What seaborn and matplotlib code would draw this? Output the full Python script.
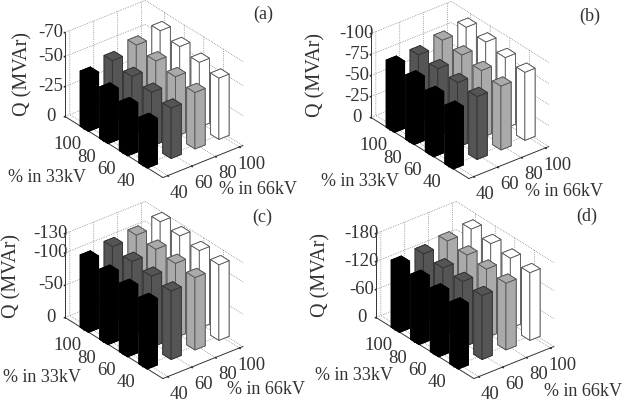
import numpy as np
import seaborn as sns
import matplotlib
matplotlib.use("Agg")
import matplotlib.pyplot as plt

# --- Data ---
PCT_66KV = [40, 60, 80, 100]
PCT_33KV = [40, 60, 80, 100]

# rows: % in 33kV, columns: % in 66kV
Q_A = [[-38, -42, -47, -51],
       [-41, -45, -50, -54],
       [-43, -48, -53, -57],
       [-46, -51, -56, -60]]
Q_B = [[-70, -75, -76, -81],
       [-73, -77, -80, -84],
       [-77, -79, -84, -88],
       [-80, -81, -87, -91]]
Q_C = [[-103, -106, -112, -117],
       [-106, -110, -115, -120],
       [-109, -114, -118, -124],
       [-112, -118, -121, -127]]
Q_D = [[-133, -137, -143, -145],
       [-137, -141, -147, -150],
       [-140, -144, -151, -155],
       [-144, -148, -155, -160]]

TICKS_A = [0, -25, -50, -70]
TICKS_B = [0, -25, -50, -75, -100]
TICKS_C = [0, -50, -100, -130]
TICKS_D = [0, -60, -120, -180]

GREYS = ["#000000", "#555555", "#aaaaaa", "#ffffff"]
EDGES = ["#000000", "#333333", "#555555", "#555555"]

W, H = 623, 407
AX_PX = 200

sns.set_theme(style="white")
plt.rcParams["font.family"] = ["Liberation Serif", "DejaVu Serif"]
plt.rcParams["axes.unicode_minus"] = False
plt.rcParams["text.color"] = "#333333"


def draw_panel(fig, values, zticks, center, name, name_pos, q_pos, lab33, lab66):
    """center is where the middle of the plot box lands, in pixels."""
    left = center[0] - 0.5135 * AX_PX
    bottom = H - (center[1] + 0.5135 * AX_PX)
    ax = fig.add_axes([left / W, bottom / H, AX_PX / W, AX_PX / H], projection="3d", proj_type="ortho")
    ax.patch.set_alpha(0)
    ax.view_init(elev=30, azim=-128.7)
    ax.set_box_aspect((102.6, 156.5, 97), zoom=1.023)
    ax.computed_zorder = False

    values = np.array(values)
    width = 8.5
    order = 0
    # far bars first so the near ones cover them
    for j in range(3, -1, -1):
        for i in range(3, -1, -1):
            order += 1
            ax.bar3d(PCT_66KV[j] - width / 2, PCT_33KV[i] - width / 2, 0, width, width, values[i, j],
                     color=GREYS[j], edgecolor=EDGES[j], linewidth=0.6, shade=False, zorder=order)

    ax.set_xlim(36, 103)
    ax.set_ylim(20, 120)
    ax.set_zlim(0, zticks[-1])
    ax.set_xticks(PCT_66KV)
    ax.set_yticks(PCT_33KV)
    ax.set_zticks(zticks)
    ax.tick_params(axis="both", labelsize=13.5, colors="#333333")
    ax.tick_params(axis="x", pad=1)
    ax.tick_params(axis="y", pad=8)
    ax.tick_params(axis="z", pad=-2)
    plt.setp(ax.get_xticklabels(), va="center")
    plt.setp(ax.get_yticklabels(), va="bottom")
    plt.setp(ax.get_zticklabels(), va="center_baseline")

    for axis in (ax.xaxis, ax.yaxis, ax.zaxis):
        axis.set_pane_color((1, 1, 1, 0))
        axis.pane.set_edgecolor("#555555")
        axis.pane.set_linewidth(0.5)
        axis.pane.set_linestyle(":")
        axis.line.set_color("#333333")
        axis.line.set_linewidth(0.7)
        axis._axinfo["grid"].update(color="#666666", linewidth=0.5, linestyle=":")
        axis._axinfo["tick"].update(inward_factor=0.1, outward_factor=0.0)

    fig.text(name_pos[0] / W, 1 - name_pos[1] / H, name, fontsize=13, ha="center", va="center")
    fig.text(q_pos[0] / W, 1 - q_pos[1] / H, "Q (MVAr)", fontsize=14.5, rotation=90, ha="center", va="center")
    fig.text(lab33[0] / W, 1 - lab33[1] / H, "% in 33kV", fontsize=13, ha="center", va="center")
    fig.text(lab66[0] / W, 1 - lab66[1] / H, "% in 66kV", fontsize=13, ha="center", va="center")
    return ax


fig = plt.figure(figsize=(W / 100, H / 100), dpi=100)
draw_panel(fig, Q_A, TICKS_A, (154, 89), "(a)", (263, 14), (23, 74), (47, 178), (258, 190))
draw_panel(fig, Q_B, TICKS_B, (460, 90), "(b)", (590, 16), (316, 75), (360, 182), (564, 192))
draw_panel(fig, Q_C, TICKS_C, (154, 290), "(c)", (262, 217), (12, 276), (42, 378), (266, 389))
draw_panel(fig, Q_D, TICKS_D, (465, 290), "(d)", (587, 216), (321, 275), (354, 376), (583, 392))
fig.savefig("out.png", dpi=100)
